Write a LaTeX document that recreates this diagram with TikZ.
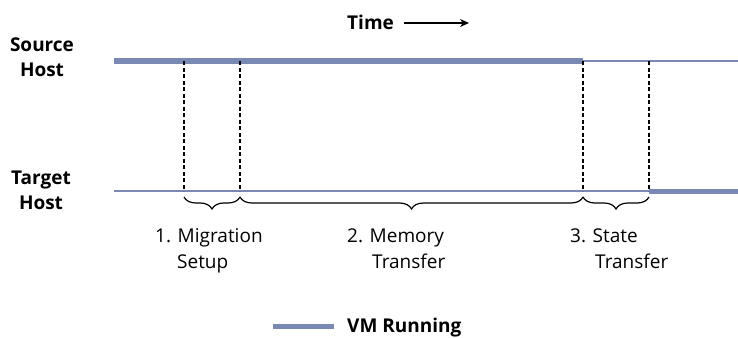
\documentclass[tikz,border=0pt]{standalone}
\usepackage{fontspec}
\setmainfont{Open Sans}
\usetikzlibrary{positioning,calc,arrows.meta,decorations.pathreplacing}
\definecolor{vmblue}{HTML}{7A89B4}
\tikzset{
  thickrun/.style={line width=5pt, vmblue},
  thinrun/.style={line width=1.6pt, vmblue},
  phaseline/.style={line width=1.2pt, dash pattern=on 4pt off 2.5pt},
  phasebrace/.style={decorate, decoration={brace, mirror, amplitude=12pt}, line width=1.2pt},
  hostlabel/.style={font=\fontsize{19}{25}\selectfont\bfseries, align=center, inner sep=0pt},
  phaselabel/.style={font=\fontsize{19}{26}\selectfont, align=left, anchor=base west, inner sep=0pt}
}
\begin{document}
\begin{tikzpicture}[x=1pt,y=-1pt]
\useasboundingbox (0,0) rectangle (738,337);
% host rows
\coordinate (s0) at (114,61);
\coordinate (s1) at (184,61);
\coordinate (s2) at (240,61);
\coordinate (s3) at (583,61);
\coordinate (s4) at (649,61);
\coordinate (send) at (738,61);
\coordinate (t0) at (114,191);
\coordinate (t1) at (184,191);
\coordinate (t2) at (240,191);
\coordinate (t3) at (583,191);
\coordinate (t4) at (649,191);
\coordinate (tend) at (738,191);
\node[hostlabel, anchor=base] (source) at (42,77) {Source\\Host};
\node[hostlabel, anchor=base] (target) at (41,209) {Target\\Host};
\draw[thickrun] (s0) -- (s3);
\draw[thinrun] (s3) -- (send);
\draw[thinrun] (t0) -- (t4);
\draw[thickrun] (t4) -- (tend);
% phase borders
\foreach \i in {1,...,4}
  \draw[phaseline] (s\i) -- (t\i);
% braces
\foreach \i in {1,...,4}
  \coordinate (b\i) at ($(t\i)+(0,6)$);
\draw[phasebrace] (b1) -- (b2);
\draw[phasebrace] (b2) -- (b3);
\draw[phasebrace] (b3) -- (b4);
\node[phaselabel] (setup) at (155,268) {1. Migration\\\hspace*{22pt}Setup};
\node[phaselabel] (memory) at (347,268) {2. Memory\\\hspace*{25pt}Transfer};
\node[phaselabel] (state) at (570,268) {3. State\\\hspace*{25pt}Transfer};
% time arrow
\node[hostlabel, anchor=base west] (time) at (347,30) {Time};
\coordinate (timeend) at (469,23);
\draw[-{Stealth[length=9pt,width=8pt]}, line width=1.8pt] ([xshift=10pt]time.east |- timeend) -- (timeend);
% legend
\coordinate (legA) at (273,326);
\coordinate (legB) at (334,326);
\draw[thickrun] (legA) -- (legB);
\node[hostlabel, anchor=base west] (vmrun) at (347,332) {VM Running};
\end{tikzpicture}
\end{document}
